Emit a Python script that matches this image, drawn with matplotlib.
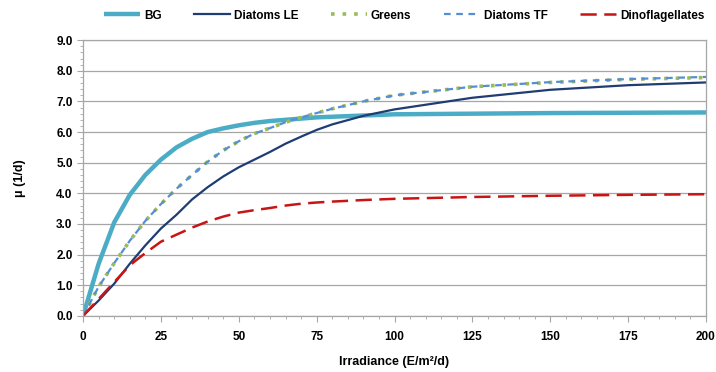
import numpy as np
import matplotlib
matplotlib.use("Agg")
import matplotlib.pyplot as plt
from matplotlib.ticker import MultipleLocator, FormatStrFormatter

# ---------------------------
# Data
# ---------------------------
irradiance = [0, 5, 10, 15, 20, 25, 30, 35, 40, 45, 50, 55, 60, 65, 70, 75, 80, 90,
              100, 125, 150, 175, 200]

bg = [0.0, 1.7, 3.05, 3.95, 4.6, 5.1, 5.5, 5.78, 6.0, 6.12, 6.22, 6.3, 6.36, 6.4, 6.44,
      6.48, 6.5, 6.54, 6.58, 6.6, 6.62, 6.63, 6.64]
diatoms_le = [0.0, 0.5, 1.05, 1.7, 2.3, 2.85, 3.3, 3.8, 4.2, 4.55, 4.85, 5.1, 5.35, 5.62,
              5.85, 6.07, 6.25, 6.53, 6.74, 7.12, 7.38, 7.53, 7.62]
greens = [0.0, 0.95, 1.72, 2.45, 3.1, 3.65, 4.15, 4.6, 5.03, 5.4, 5.7, 5.95, 6.13, 6.32,
          6.48, 6.62, 6.76, 7.0, 7.2, 7.48, 7.62, 7.72, 7.78]
diatoms_tf = [0.0, 0.95, 1.72, 2.45, 3.1, 3.65, 4.15, 4.6, 5.03, 5.4, 5.7, 5.95, 6.13, 6.32,
              6.48, 6.62, 6.76, 7.0, 7.2, 7.48, 7.63, 7.73, 7.8]
dinoflagellates = [0.0, 0.55, 1.1, 1.65, 2.05, 2.42, 2.65, 2.88, 3.08, 3.24, 3.37, 3.45, 3.52,
                   3.6, 3.66, 3.7, 3.73, 3.78, 3.82, 3.88, 3.92, 3.95, 3.97]

x_ticks = [0, 25, 50, 75, 100, 125, 150, 175, 200]

# ---------------------------
# Plot
# ---------------------------
plt.rcParams["font.family"] = ["Liberation Sans", "DejaVu Sans"]
plt.rcParams["font.weight"] = "bold"

fig = plt.figure(figsize=(7.16, 3.72), dpi=100)
ax = fig.add_axes([0.116, 0.151, 0.870, 0.741])

ax.plot(irradiance, bg, color="#4bacc6", lw=3.2, label="BG", solid_capstyle="butt")
ax.plot(irradiance, diatoms_le, color="#1f3c73", lw=1.6, label="Diatoms LE")
ax.plot(irradiance, greens, color="#9bbb59", lw=2.6, ls=(0, (1, 2.2)), label="Greens")
ax.plot(irradiance, diatoms_tf, color="#558ed5", lw=1.6, ls=(0, (3, 2.5)), label="Diatoms TF")
ax.plot(irradiance, dinoflagellates, color="#c81414", lw=1.8, ls=(0, (6.5, 3)),
        label="Dinoflagellates")

ax.set_xlim(0, 200)
ax.set_ylim(0, 9)
ax.set_xticks(x_ticks)
ax.xaxis.set_minor_locator(MultipleLocator(5))
ax.yaxis.set_major_locator(MultipleLocator(1))
ax.yaxis.set_minor_locator(MultipleLocator(0.2))
ax.yaxis.set_major_formatter(FormatStrFormatter("%.1f"))

ax.grid(axis="y", which="major", color="#a6a6a6", lw=0.9)
ax.set_axisbelow(True)
for s in ax.spines.values():
    s.set_color("#a6a6a6")
    s.set_linewidth(0.9)
ax.tick_params(which="both", direction="out", color="#a6a6a6", labelsize=8.5)
ax.tick_params(which="major", length=4)
ax.tick_params(which="minor", length=2.5)
ax.tick_params(axis="x", pad=7)

ax.set_xlabel("Irradiance (E/m²/d)", fontsize=9, fontweight="bold", labelpad=9)
ax.set_ylabel("μ (1/d)", fontsize=9, fontweight="bold", labelpad=22)

leg = fig.legend(loc="center left", bbox_to_anchor=(0.145, 0.958), ncol=5, frameon=False,
                 fontsize=8.5, handlelength=3.1, columnspacing=2.73, handletextpad=0.3,
                 borderpad=0, borderaxespad=0)

fig.savefig("out.png", dpi=100)
